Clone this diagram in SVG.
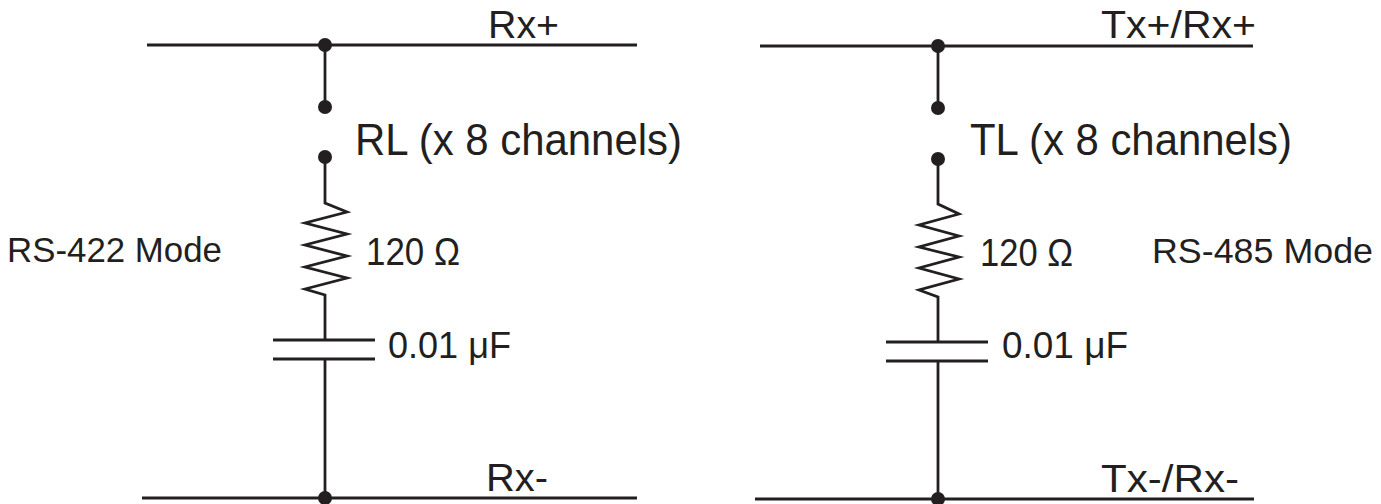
<svg xmlns="http://www.w3.org/2000/svg" width="1381" height="504" viewBox="0 0 1381 504">
<style>
.w{stroke:#231f20;stroke-width:2.8;fill:none;stroke-linejoin:miter}
.d{fill:#231f20}
text{font-family:"Liberation Sans",Arial,sans-serif;fill:#231f20}
</style>
<rect width="1381" height="504" fill="#fff"/>
<g id="connectors">
<line class="w" x1="147" y1="45" x2="637" y2="45"/>
<line class="w" x1="325" y1="45" x2="325" y2="107"/>
<polyline class="w" points="325,157 325,203 347,212 305,223 347,234 305,245 347,256 305,267 347,278 305,289 325,295 325,340"/>
<line class="w" x1="273" y1="340" x2="375" y2="340"/>
<line class="w" x1="273" y1="359" x2="375" y2="359"/>
<line class="w" x1="325" y1="359" x2="325" y2="498"/>
<line class="w" x1="142" y1="498" x2="637" y2="498"/>
<line class="w" x1="760" y1="46" x2="1253" y2="46"/>
<line class="w" x1="938" y1="46" x2="938" y2="108"/>
<polyline class="w" points="938,159 938,204 959,214 919,225 959,236 919,247 959,257 919,268 959,279 919,290 938,297 938,342"/>
<line class="w" x1="886" y1="342" x2="988" y2="342"/>
<line class="w" x1="886" y1="361" x2="988" y2="361"/>
<line class="w" x1="938" y1="361" x2="938" y2="499"/>
<line class="w" x1="755" y1="499" x2="1254" y2="499"/>
</g>
<g id="left-circuit">
<circle class="d" cx="325" cy="45" r="7"/>
<circle class="d" cx="325" cy="107" r="7"/>
<circle class="d" cx="325" cy="157" r="7"/>
<circle class="d" cx="325" cy="498" r="7"/>
<text x="488" y="38" font-size="38" textLength="71" lengthAdjust="spacingAndGlyphs">Rx+</text>
<text x="355" y="155" font-size="44" textLength="327" lengthAdjust="spacingAndGlyphs">RL (x 8 channels)</text>
<text x="7" y="262" font-size="35" textLength="215" lengthAdjust="spacingAndGlyphs">RS-422 Mode</text>
<text x="366" y="265" font-size="38" textLength="94" lengthAdjust="spacingAndGlyphs">120 Ω</text>
<text x="388" y="358" font-size="36" textLength="123" lengthAdjust="spacingAndGlyphs">0.01 μF</text>
<text x="486" y="491" font-size="39" textLength="62" lengthAdjust="spacingAndGlyphs">Rx-</text>
</g>
<g id="right-circuit">
<circle class="d" cx="938" cy="46" r="7"/>
<circle class="d" cx="938" cy="108" r="7"/>
<circle class="d" cx="938" cy="159" r="7"/>
<circle class="d" cx="938" cy="499" r="7"/>
<text x="1101" y="38" font-size="38" textLength="155" lengthAdjust="spacingAndGlyphs">Tx+/Rx+</text>
<text x="970" y="155" font-size="44" textLength="322" lengthAdjust="spacingAndGlyphs">TL (x 8 channels)</text>
<text x="1152" y="263" font-size="35" textLength="221" lengthAdjust="spacingAndGlyphs">RS-485 Mode</text>
<text x="980" y="266" font-size="38" textLength="93" lengthAdjust="spacingAndGlyphs">120 Ω</text>
<text x="1002" y="358" font-size="36" textLength="126" lengthAdjust="spacingAndGlyphs">0.01 μF</text>
<text x="1101" y="492" font-size="39" textLength="138" lengthAdjust="spacingAndGlyphs">Tx-/Rx-</text>
</g>
</svg>
